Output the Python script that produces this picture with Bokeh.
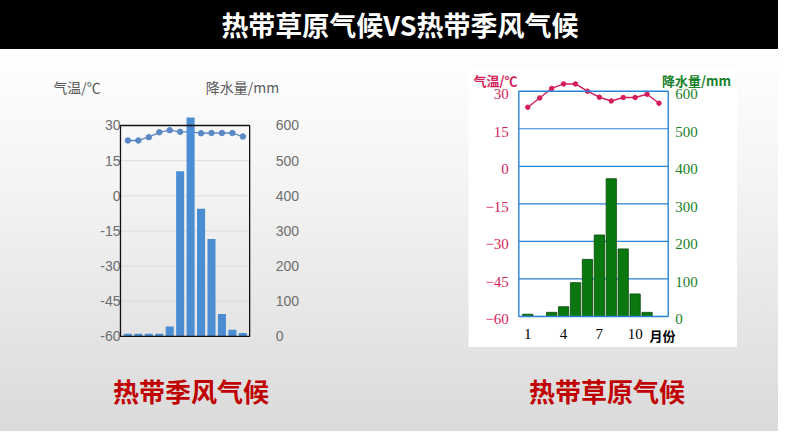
from bokeh.plotting import figure
from bokeh.layouts import column, row
from bokeh.models import Div, Spacer, Range1d, LinearAxis, FixedTicker, BoxAnnotation, Label, ColumnDataSource
from bokeh.embed import file_html
from bokeh.resources import INLINE

# ---------------- data ----------------
months = [1, 2, 3, 4, 5, 6, 7, 8, 9, 10, 11, 12]
# 热带季风气候 (left chart)
monsoon_temp = [23.6, 23.6, 25.0, 27.1, 28.0, 27.3, 27.3, 26.7, 26.8, 26.8, 26.8, 25.3]
monsoon_precip = [8, 8, 8, 8, 28, 470, 623, 363, 277, 64, 19, 10]
# 热带草原气候 (right chart)
savanna_temp = [23.6, 27.3, 31.1, 32.9, 32.9, 30.0, 27.6, 26.1, 27.5, 27.5, 28.8, 25.2]
savanna_precip = [6, 0, 11, 26, 90, 152, 217, 367, 180, 60, 11, 0]

temp_ticks = [-60, -45, -30, -15, 0, 15, 30]
precip_ticks = [0, 100, 200, 300, 400, 500, 600]
month_ticks = [1, 4, 7, 10]

title_text = "热带草原气候VS热带季风气候"
left_name = "热带季风气候"
right_name = "热带草原气候"
temp_title = "气温/℃"
precip_title = "降水量/mm"
month_unit = "月份"


def to_precip(t):
    return (t + 60) * 600.0 / 90.0


CJK = "Noto Sans CJK SC"
T_MIN, T_MAX = temp_ticks[0], temp_ticks[-1]
P_MAX = precip_ticks[-1]
inner_ticks = temp_ticks[1:-1]


def style_axis(ax, standoff, color, font, size):
    ax.axis_line_color = None
    ax.major_tick_line_color = None
    ax.minor_tick_line_color = None
    ax.major_tick_out = 0
    ax.major_tick_in = 0
    ax.minor_tick_out = 0
    ax.minor_tick_in = 0
    ax.major_label_text_font = font
    ax.major_label_text_font_size = size
    ax.major_label_text_color = color
    ax.major_label_standoff = standoff


# ---------------- left chart (热带季风气候) ----------------
LX0, LX1 = 0.29, 12.65          # box edges (month units)
L_Y0, L_Y1 = -65.99, 53.46
pl = figure(width=270, height=280, x_range=Range1d(-7.364, 18.474), y_range=Range1d(L_Y0, L_Y1),
            output_backend="svg", toolbar_location=None, x_axis_location=None, y_axis_location=None,
            min_border=0, background_fill_alpha=0, border_fill_alpha=0, outline_line_color=None)
pl.extra_y_ranges = {"pr": Range1d(to_precip(L_Y0), to_precip(L_Y1))}
pl.grid.visible = False
la = LinearAxis(ticker=FixedTicker(ticks=temp_ticks), fixed_location=LX0, bounds=(T_MIN, T_MAX),
                major_label_overrides={t: str(t) for t in temp_ticks})
ra = LinearAxis(y_range_name="pr", ticker=FixedTicker(ticks=precip_ticks), fixed_location=LX1,
                bounds=(0, P_MAX))
pl.add_layout(la, "left")
pl.add_layout(ra, "right")
style_axis(la, 0, "#6e6e6e", "Liberation Sans", "14px")
style_axis(ra, 26, "#6e6e6e", "Liberation Sans", "14px")

pl.segment(x0=LX0, x1=LX1, y0=inner_ticks, y1=inner_ticks, line_color="#dcdcdc", line_width=1)
src_l = ColumnDataSource(dict(m=months, t=monsoon_temp, p=monsoon_precip))
pl.line("m", "t", source=src_l, line_color="#5b88c4", line_width=1.3)
pl.scatter("m", "t", source=src_l, size=5.5, fill_color="#5b88c4", line_color="#5b88c4")
pl.vbar(x="m", top="p", width=0.77, bottom=0, source=src_l, y_range_name="pr",
        fill_color="#4b8dd3", line_color=None)
pl.add_layout(BoxAnnotation(left=LX0, right=LX1, top=T_MAX, bottom=T_MIN, fill_alpha=0,
                            line_color="#111111", line_alpha=1, line_width=1.3, level="overlay"))
pl.add_layout(Label(x=-3.87, y=46.4, text=temp_title, text_align="center", text_baseline="middle",
                    text_font=CJK, text_font_size="14px", text_color="#5a5a5a"))
pl.add_layout(Label(x=11.97, y=46.4, text=precip_title, text_align="center", text_baseline="middle",
                    text_font=CJK, text_font_size="14px", text_color="#5a5a5a"))

# ---------------- right chart (热带草原气候) ----------------
RED = "#d41e5a"
GREEN = "#17802a"
BLUE = "#2b83d3"
RX0, RX1 = 0.25, 12.77
R_Y0, R_Y1 = -72.40, 39.07
LAB_SHIFT = 1.2   # tick labels of this chart sit a little below their grid lines
pr = figure(width=269, height=279, x_range=Range1d(-3.97, 18.58), y_range=Range1d(R_Y0, R_Y1),
            output_backend="svg", toolbar_location=None, x_axis_location=None, y_axis_location=None,
            min_border=0, background_fill_color="white", border_fill_color="white", outline_line_color=None)
pr.extra_y_ranges = {"pr": Range1d(to_precip(R_Y0), to_precip(R_Y1)),
                     "tlab": Range1d(R_Y0 + LAB_SHIFT, R_Y1 + LAB_SHIFT),
                     "plab": Range1d(to_precip(R_Y0 + LAB_SHIFT), to_precip(R_Y1 + LAB_SHIFT))}
pr.grid.visible = False
la2 = LinearAxis(y_range_name="tlab", ticker=FixedTicker(ticks=temp_ticks), fixed_location=RX0,
                 bounds=(T_MIN, T_MAX),
                 major_label_overrides={t: str(t).replace("-", "\u2212") for t in temp_ticks})
ra2 = LinearAxis(y_range_name="plab", ticker=FixedTicker(ticks=precip_ticks), fixed_location=RX1,
                 bounds=(0, P_MAX))
xa2 = LinearAxis(ticker=FixedTicker(ticks=month_ticks), fixed_location=T_MIN, bounds=(RX0, RX1))
pr.add_layout(la2, "left")
pr.add_layout(ra2, "right")
pr.add_layout(xa2, "below")
style_axis(la2, 10, RED, "Liberation Serif", "15px")
style_axis(ra2, 7, GREEN, "Liberation Serif", "15px")
style_axis(xa2, 13, "black", "Liberation Serif", "15px")

pr.segment(x0=RX0, x1=RX1, y0=inner_ticks, y1=inner_ticks, line_color=BLUE, line_width=1.2)
src_r = ColumnDataSource(dict(m=months, t=savanna_temp, p=savanna_precip))
pr.vbar(x="m", top="p", width=0.86, bottom=0, source=src_r, y_range_name="pr",
        fill_color="#0b770f", line_color="#064a08", line_width=0.8)
pr.line("m", "t", source=src_r, line_color=RED, line_width=1.4)
pr.scatter("m", "t", source=src_r, size=4.5, fill_color=RED, line_color=RED)
pr.add_layout(BoxAnnotation(left=RX0, right=RX1, top=T_MAX, bottom=T_MIN, fill_alpha=0,
                            line_color=BLUE, line_alpha=1, line_width=1.4, level="overlay"))
pr.add_layout(Label(x=-1.7, y=34.4, text=temp_title, text_align="center", text_baseline="middle",
                    text_font=CJK, text_font_size="13px", text_font_style="bold", text_color=RED))
pr.add_layout(Label(x=15.14, y=34.4, text=precip_title, text_align="center", text_baseline="middle",
                    text_font=CJK, text_font_size="13px", text_font_style="bold", text_color=GREEN))
pr.add_layout(Label(x=12.3, y=-67.6, text=month_unit, text_align="center", text_baseline="middle",
                    text_font=CJK, text_font_size="13px", text_font_style="bold", text_color="black"))

# ---------------- page layout ----------------
title = Div(text='<div style="margin-left:22px">' + title_text + '</div>', width=778, height=49, margin=0,
            styles={"background-color": "#000000", "color": "#ffffff", "font-size": "27px",
                    "font-weight": "bold", "text-align": "center", "line-height": "49px",
                    "font-family": CJK})

left_col = column(Spacer(width=270, height=21, margin=0), pl, margin=0)
right_col = column(Spacer(width=269, height=19, margin=0), pr, margin=0)
middle = row(Spacer(width=40, height=10, margin=0), left_col, Spacer(width=158, height=10, margin=0),
             right_col, margin=0)

lab_style = {"color": "#c00000", "font-size": "26px", "font-weight": "bold", "text-align": "center",
             "line-height": "82px", "font-family": CJK}
lab1 = Div(text=left_name, width=180, height=71, margin=0, styles=lab_style)
lab2 = Div(text=right_name, width=180, height=71, margin=0, styles=lab_style)
bottom = row(Spacer(width=101, height=10, margin=0), lab1, Spacer(width=236, height=10, margin=0), lab2,
             margin=0)

root = column(title, middle, bottom, width=778, height=431, margin=0,
              styles={"background": "linear-gradient(to bottom, #ffffff 10%, #f3f3f3 45%, #dadada 100%)"})

open("out.html", "w").write(file_html(root, INLINE))
